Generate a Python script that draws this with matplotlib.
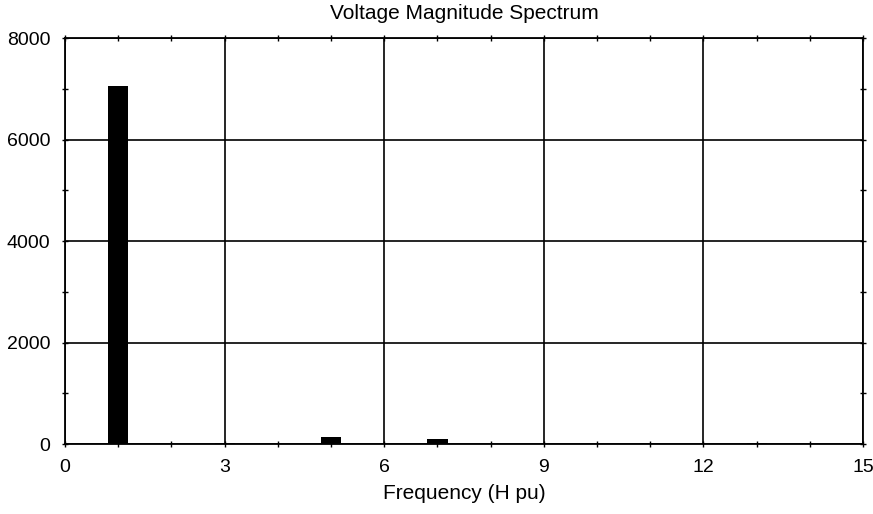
import matplotlib
matplotlib.use("Agg")
import matplotlib.pyplot as plt
from matplotlib.ticker import MultipleLocator

plt.rcParams["font.family"] = ["Liberation Sans", "DejaVu Sans"]

# harmonic order and voltage magnitude
harmonics = [1, 3, 5, 7, 9, 11, 13]
magnitudes = [7060, 20, 140, 95, 10, 30, 25]

fig = plt.figure(figsize=(8.73, 5.14), dpi=100)
ax = fig.add_axes([0.0745, 0.136, 0.9141, 0.790])

ax.bar(harmonics, magnitudes, width=0.38, color="black", zorder=3)

ax.set_xlim(0, 15)
ax.set_ylim(0, 8000)
ax.set_xticks([0, 3, 6, 9, 12, 15])
ax.set_yticks([0, 2000, 4000, 6000, 8000])
ax.xaxis.set_minor_locator(MultipleLocator(1))
ax.yaxis.set_minor_locator(MultipleLocator(1000))
ax.tick_params(which="both", direction="inout", length=5, width=1,
               labelsize=14, top=True, right=True)
ax.tick_params(which="minor", length=5)
ax.tick_params(axis="x", pad=8)
ax.tick_params(axis="y", pad=8)

ax.grid(True, which="major", color="black", linewidth=1.2)
for s in ax.spines.values():
    s.set_linewidth(1.3)

ax.set_title("Voltage Magnitude Spectrum", fontsize=15, pad=14)
ax.set_xlabel("Frequency (H pu)", fontsize=15, labelpad=6)

fig.savefig("out.png", dpi=100)
